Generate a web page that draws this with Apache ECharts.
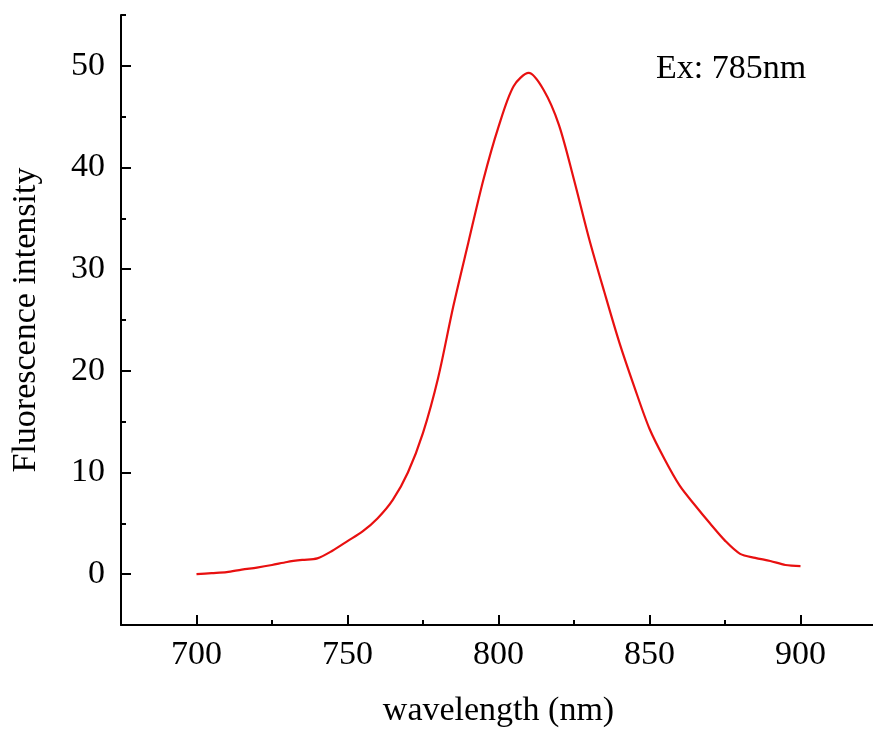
<!DOCTYPE html>
<html>
<head>
<meta charset="utf-8">
<script src="https://cdn.jsdelivr.net/npm/echarts@6/dist/echarts.min.js"></script>
<style>html,body{margin:0;padding:0;background:#fff}#c{width:873px;height:729px}</style>
</head>
<body>
<div id="c"></div>
<script>
const wavelengths = [700,705,710,715,720,725,730,735,740,745,750,755,760,765,770,775,780,785,790,795,800,805,810,815,820,825,830,835,840,845,850,855,860,865,870,875,880,885,890,895,900];
const intensity = [0,0.1,0.2,0.45,0.65,0.9,1.2,1.4,1.55,2.3,3.25,4.2,5.5,7.3,10.0,13.9,19.3,26.3,32.6,38.8,44.0,48.0,49.3,47.6,44.2,38.8,33.0,27.8,22.8,18.4,14.3,11.3,8.7,6.8,5.0,3.3,2.0,1.6,1.3,0.9,0.8];
const xMajorTicks = [700,750,800,850,900];
const xMinorTicks = [725,775,825,875];
const yMajorTicks = [0,10,20,30,40,50];
const yMinorTicks = [5,15,25,35,45,55];
const annotation = 'Ex: 785nm';

const font = 'Liberation Serif, Times New Roman, serif';
const chart = echarts.init(document.getElementById('c'));
const lineStyle = {color:'#000', width:2};
chart.setOption({
  animation:false,
  backgroundColor:'#fff',
  grid:{left:121, right:-3, top:15, bottom:104, containLabel:false, outerBoundsMode:'none'},
  xAxis:[{
    type:'value', min:675, max:925, position:'bottom',
    axisLine:{show:true, onZero:false, lineStyle},
    axisTick:{show:true, inside:true, length:10, lineStyle, customValues:xMajorTicks},
    axisLabel:{customValues:xMajorTicks, fontFamily:font, fontSize:34, color:'#000', margin:13},
    splitLine:{show:false},
    name:'wavelength (nm)', nameLocation:'middle', nameGap:69,
    nameTextStyle:{fontFamily:font, fontSize:34, color:'#000'}
  },{
    type:'value', min:675, max:925, position:'bottom',
    axisLine:{show:false, onZero:false},
    axisTick:{show:true, inside:true, length:5, lineStyle, customValues:xMinorTicks},
    axisLabel:{show:false},
    splitLine:{show:false}
  }],
  yAxis:[{
    type:'value', min:-5, max:55, position:'left',
    axisLine:{show:true, onZero:false, lineStyle},
    axisTick:{show:true, inside:true, length:10, lineStyle, customValues:yMajorTicks},
    axisLabel:{customValues:yMajorTicks, fontFamily:font, fontSize:34, color:'#000', margin:16},
    splitLine:{show:false},
    name:'Fluorescence intensity', nameLocation:'middle', nameGap:78,
    nameTextStyle:{fontFamily:font, fontSize:34, color:'#000'}
  },{
    type:'value', min:-5, max:55, position:'left',
    axisLine:{show:false, onZero:false},
    axisTick:{show:true, inside:true, length:5, lineStyle, customValues:yMinorTicks},
    axisLabel:{show:false},
    splitLine:{show:false}
  }],
  graphic:[{
    type:'text', left:656, top:52,
    style:{text:annotation, font:'34px ' + font, fill:'#000'}
  }],
  series:[{
    type:'line', xAxisIndex:0, yAxisIndex:0,
    data: wavelengths.map((w,i)=>[w,intensity[i]]),
    smooth:0.3, showSymbol:false,
    lineStyle:{color:'#e81010', width:2.2}
  }]
});
</script>
</body>
</html>
